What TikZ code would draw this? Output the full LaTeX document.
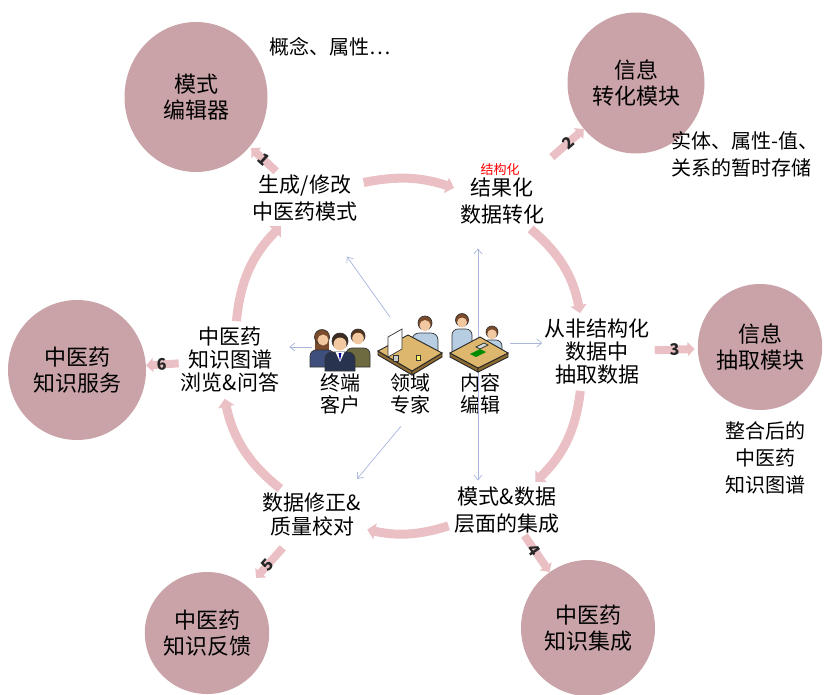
\documentclass[tikz,border=0pt]{standalone}
\usepackage{fontspec}
\setmainfont{Noto Sans CJK SC}
\usetikzlibrary{arrows.meta,shapes.geometric}

\definecolor{modpink}{HTML}{C9A3A8}
\definecolor{flowpink}{HTML}{EAC0C5}
\definecolor{linkblue}{HTML}{A9B6DE}
\definecolor{skin}{HTML}{F1C8A0}
\definecolor{hairdark}{HTML}{3A2A20}
\definecolor{hairbrown}{HTML}{7B4B2B}
\definecolor{suitnavy}{HTML}{27334F}
\definecolor{suitblue}{HTML}{3E4F7E}
\definecolor{suitolive}{HTML}{6E6B40}
\definecolor{shirtblue}{HTML}{B6CDE2}
\definecolor{desktan}{HTML}{DDB76E}
\definecolor{deskedge}{HTML}{8C6B32}

\tikzset{
  outl/.style={draw=black!80, line width=.7pt},
  % drei Kunden
  clients/.pic={
    \fill[hairbrown] (-25,-12) rectangle (-11,4);
    \filldraw[fill=suitblue, outl] (-30,20) {[rounded corners=6pt] -- (-30,3) -- (-6,3)} -- (-6,20) -- cycle;
    \filldraw[fill=hairbrown, outl] (-18,-10) circle (7.5);
    \fill[skin] (-17,-7) circle (5.5);
    \filldraw[fill=suitolive, outl] (6,20) {[rounded corners=6pt] -- (6,1) -- (30,1)} -- (30,20) -- cycle;
    \filldraw[fill=hairbrown!70!black, outl] (18,-11) circle (7);
    \fill[skin] (18,-8.5) circle (5.8);
    \filldraw[fill=suitnavy, outl] (-15,24) {[rounded corners=7pt] -- (-15,5) -- (15,5)} -- (15,24) -- cycle;
    \fill[white] (-4.5,5) -- (4.5,5) -- (0,15) -- cycle;
    \fill[blue!60!black] (-1.4,6) -- (1.4,6) -- (0,14) -- cycle;
    \filldraw[fill=hairdark, outl] (0,-6) circle (8);
    \fill[skin] (0,-3) circle (6.5);
  },
  % Experte am Bildschirm
  expert/.pic={
    \filldraw[fill=shirtblue, outl] (2,12) {[rounded corners=7pt] -- (2,-12) -- (28,-12)} -- (28,12) -- cycle;
    \filldraw[fill=hairbrown, outl] (15,-22) circle (7);
    \fill[skin] (15,-19.5) circle (5.5);
    \filldraw[fill=deskedge, draw=black!85, line width=.9pt] (-32,6) -- (2,26) -- (2,30) -- (-32,10) -- cycle;
    \filldraw[fill=deskedge, draw=black!85, line width=.9pt] (2,26) -- (32,8) -- (32,12) -- (2,30) -- cycle;
    \filldraw[fill=desktan, draw=black!85, line width=.9pt] (-32,6) -- (-2,-10) -- (32,8) -- (2,26) -- cycle;
    \filldraw[fill=white, outl] (-22,-8) -- (-8,-16) -- (-8,4) -- (-22,12) -- cycle;
    \filldraw[fill=gray!40, outl] (-17,10) rectangle (-12,16);
    \filldraw[fill=yellow!60, outl] (6,10) rectangle (10,15);
  },
  % zwei Redakteure am Tisch
  editor/.pic={
    \filldraw[fill=shirtblue, outl] (-26,14) {[rounded corners=6pt] -- (-26,-14) -- (-6,-14)} -- (-6,14) -- cycle;
    \filldraw[fill=hairbrown, outl] (-16,-23) circle (6.5);
    \fill[skin] (-16,-20.5) circle (5);
    \filldraw[fill=shirtblue, outl] (4,16) {[rounded corners=6pt] -- (4,-3) -- (24,-3)} -- (24,16) -- cycle;
    \filldraw[fill=hairbrown, outl] (14,-11) circle (6);
    \fill[skin] (14,-8.8) circle (4.8);
    \filldraw[fill=deskedge, draw=black!85, line width=.9pt] (-28,10) -- (0,25) -- (0,29) -- (-28,14) -- cycle;
    \filldraw[fill=deskedge, draw=black!85, line width=.9pt] (0,25) -- (30,10) -- (30,14) -- (0,29) -- cycle;
    \filldraw[fill=desktan, draw=black!85, line width=.9pt] (-28,10) -- (2,-6) -- (30,10) -- (0,25) -- cycle;
    \fill[green!55!black] (-8,11) -- (2,6) -- (8,9) -- (-2,14) -- cycle;
    \filldraw[fill=gray!30, outl] (-2,4) -- (6,0) -- (10,2) -- (2,6) -- cycle;
  }
}

\begin{document}
\begin{tikzpicture}[x=1pt, y=-1pt,
  module/.style={ellipse, fill=modpink, inner sep=0pt, align=center,
    font=\fontsize{22}{26}\selectfont},
  task/.style={align=center, inner sep=2pt, font=\fontsize{21}{27}\selectfont},
  note/.style={align=center, inner sep=1pt, font=\fontsize{20}{27}\selectfont},
  who/.style={align=center, inner sep=1pt, font=\fontsize{20}{22}\selectfont},
  iconbox/.style={minimum width=56pt, minimum height=44pt, inner sep=0pt},
  flow/.style={draw=flowpink, line width=9pt, shorten <=4pt, shorten >=4pt,
    -{Triangle[length=8pt, width=16pt]}},
  numflow/.style={draw=flowpink, line width=8pt, -{Triangle[length=7pt, width=14pt]}},
  numlbl/.style={font=\fontsize{16}{16}\selectfont\bfseries, text=black!85,
    inner sep=0pt, sloped},
  link/.style={draw=linkblue, line width=.7pt, -{Straight Barb[length=5pt, width=8pt]}}]
  \useasboundingbox (0,0) rectangle (824,694);

  % Module
  \node[module, minimum width=143pt, minimum height=150pt] (m1) at (196,97) {模式\\编辑器};
  \node[module, minimum width=137pt, minimum height=141pt] (m2) at (636,83) {信息\\转化模块};
  \node[module, minimum width=112pt, minimum height=126pt] (m3) at (760,347) {信息\\抽取模块};
  \node[module, minimum width=134pt, minimum height=136pt] (m4) at (588,628) {中医药\\知识集成};
  \node[module, minimum width=121pt, minimum height=122pt] (m5) at (207,633) {中医药\\知识反馈};
  \node[module, minimum width=138pt, minimum height=140pt] (m6) at (77,370) {中医药\\知识服务};

  % Arbeitsschritte
  \node[task] (t1) at (305,198) {生成/修改\\中医药模式};
  \node[task] (t2) at (502,201) {结果化\\数据转化};
  \node[task, font=\fontsize{21}{23}\selectfont] (t3) at (597,352) {从非结构化\\数据中\\抽取数据};
  \node[task] (t4) at (507,510) {模式\&数据\\层面的集成};
  \node[task, font=\fontsize{21}{24}\selectfont] (t5) at (312,515) {数据修正\&\\质量校对};
  \node[task, font=\fontsize{21}{23}\selectfont] (t6) at (230,360) {中医药\\知识图谱\\浏览\&问答};

  % Hinweise
  \node[note] (n1) at (330,47) {概念、属性⋯};
  \node[note, align=left, anchor=west] (n2) at (670,154) {实体、属性-值、\\关系的暂时存储};
  \node[note] (n3) at (765,458) {整合后的\\中医药\\知识图谱};
  \node[font=\fontsize{13}{13}\selectfont, text=red, inner sep=0pt] (n4) at (500,170) {结构化};

  % Rollen
  \node[iconbox] (cu) at (340,347) {};
  \node[iconbox] (ex) at (410,345) {};
  \node[iconbox] (ed) at (478,343) {};
  \node[who] (cul) at (340,394) {终端\\客户};
  \node[who] (exl) at (410,394) {领域\\专家};
  \node[who] (edl) at (480,394) {内容\\编辑};

  % Verbindungen der Rollen
  \draw[link, shorten >=8pt] (cu.west) -- (cu.west -| t6.east);
  \draw[link, shorten <=4pt] (ed.east) -- (ed.east -| t3.west);
  \draw[link, shorten >=22pt] (ed.center) -- (ed.center |- t2.south);
  \draw[link, shorten >=4pt] (ed.center) -- (ed.center |- t4.north);
  \draw[link, shorten <=34pt, shorten >=72pt] (ex.center) -- (t1.center);
  \coordinate (a5) at (357,479);
  \draw[link, shorten <=14pt] (exl.south) -- (a5);

  \pic at (cu) {clients};
  \pic at (ex) {expert};
  \pic at (ed) {editor};

  % Kreislauf
  \draw[flow] (t1.15) to[bend left=15] (t2.165);
  \draw[flow] (t2.-45) to[bend left=20] (t3.115);
  \draw[flow] (t3.-115) to[bend left=20] (t4.45);
  \draw[flow] (t4.-165) to[bend left=15] (t5.-15);
  \draw[flow] (t5.140) to[bend left=20] (t6.-100);
  \draw[flow] (t6.80) to[bend left=20] (t1.-130);

  % nummerierte Schritte
  \draw[numflow, shorten <=2pt, shorten >=2pt] (t1) -- node[numlbl] {1} (m1);
  \draw[numflow, shorten <=28pt] (t2) -- node[numlbl, pos=.7] {2} (m2);
  \draw[numflow, shorten <=3pt, shorten >=3pt] (t3) -- node[numlbl] {3} (m3);
  \draw[numflow] (t4) -- node[numlbl, pos=.4] {4} (m4);
  \draw[numflow, shorten <=12pt, shorten >=12pt] (t5) -- node[numlbl, pos=.55] {5} (m5);
  \draw[numflow] (t6) -- node[numlbl] {6} (m6);
\end{tikzpicture}
\end{document}
